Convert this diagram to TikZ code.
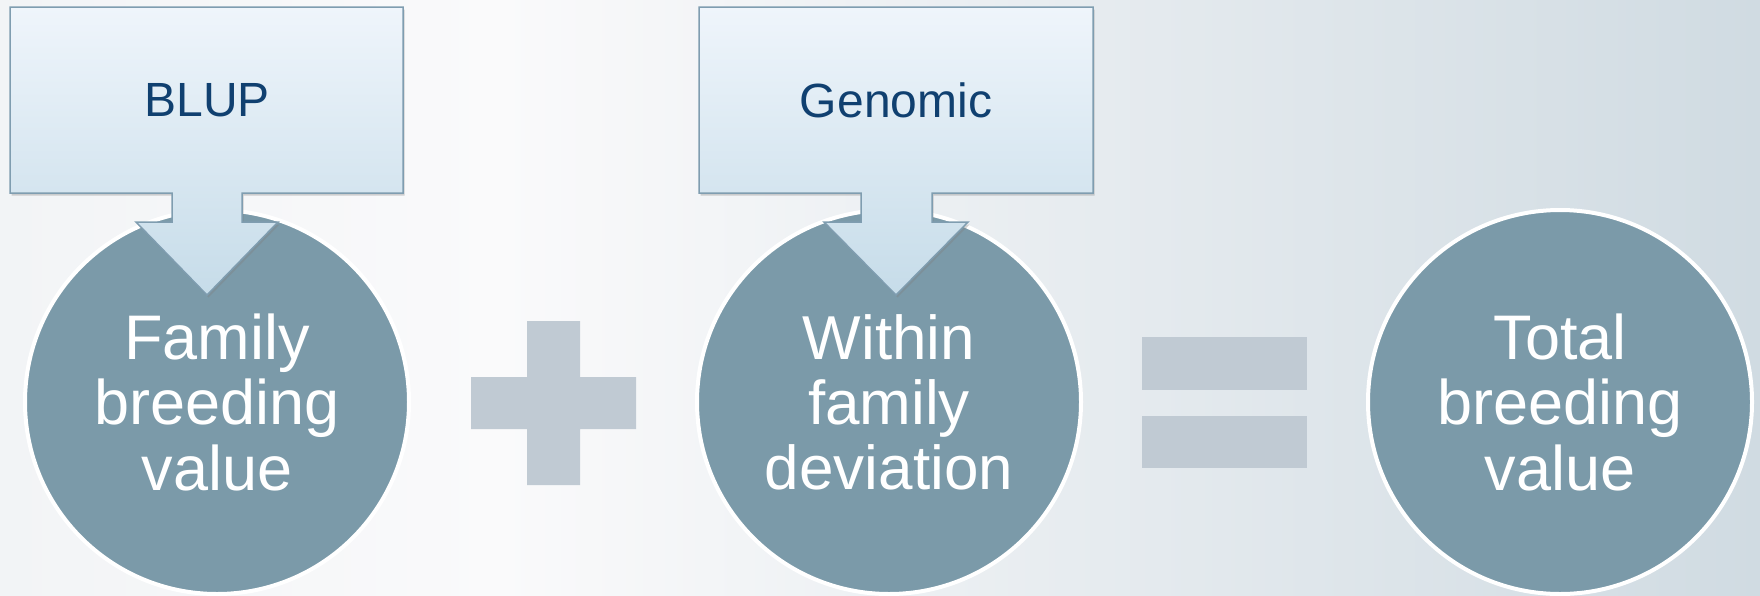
\documentclass[tikz,border=0pt]{standalone}
\usepackage{fontspec}
\setmainfont{Liberation Sans}
\usetikzlibrary{shadows}
\definecolor{ringfill}{RGB}{123,154,169}
\definecolor{signfill}{RGB}{192,202,211}
\definecolor{boxtxt}{RGB}{16,64,112}
\definecolor{boxline}{RGB}{127,157,176}
\definecolor{boxtop}{RGB}{239,245,251}
\definecolor{boxbot}{RGB}{198,220,233}
\definecolor{bgleft}{RGB}{242,244,246}
\definecolor{bgmid}{RGB}{250,250,251}
\definecolor{bgright}{RGB}{208,219,226}
\tikzset{
  ring/.style={circle, draw=white, line width=4pt, fill=ringfill,
               minimum size=384pt, inner sep=0pt, align=center, text=white,
               font=\fontsize{63}{65.5}\selectfont},
  sign/.style={fill=signfill, draw=none},
  callout/.style={draw=boxline, line width=1.5pt, line join=miter,
                  top color=boxtop, bottom color=boxbot,
                  drop shadow={shadow xshift=1.5pt, shadow yshift=-2.5pt, opacity=0.35}},
  tag/.style={text=boxtxt, inner sep=0pt, font=\fontsize{48}{50}\selectfont},
}
\begin{document}
\begin{tikzpicture}[x=1pt, y=-1pt]
  \useasboundingbox (0,0) rectangle (1760,595);
  \shade[left color=bgleft, right color=bgmid] (0,0) rectangle (500,595);
  \shade[left color=bgmid, right color=bgright] (500,0) rectangle (1760,595);

  \fill[sign] (527,321) -- (580,321) -- (580,377) -- (636,377) -- (636,429)
    -- (580,429) -- (580,485) -- (527,485) -- (527,429) -- (471,429)
    -- (471,377) -- (527,377) -- cycle;
  \fill[sign] (1142,337) rectangle (1307,390);
  \fill[sign] (1142,416) rectangle (1307,468);

  \node[ring] (fam) at (217,402) {Family\\breeding\\value};
  \node[ring, font=\fontsize{62}{65}\selectfont] (dev) at (889,402) {Within\\family\\deviation};
  \node[ring] (tot) at (1560,402) {Total\\breeding\\value};

  \path[callout] (10,7) -- (403,7) -- (403,193) -- (242,193) -- (242,222)
    -- (278,222) -- (207,295) -- (136,222) -- (172,222) -- (172,193)
    -- (10,193) -- cycle;
  \node[tag] (blup) at (207,100) {BLUP};

  \path[callout] (699,7) -- (1093,7) -- (1093,193) -- (932,193) -- (932,222)
    -- (968,222) -- (896,295) -- (824,222) -- (861,222) -- (861,193)
    -- (699,193) -- cycle;
  \node[tag] (geno) at (896,100) {Genomic};
\end{tikzpicture}
\end{document}
